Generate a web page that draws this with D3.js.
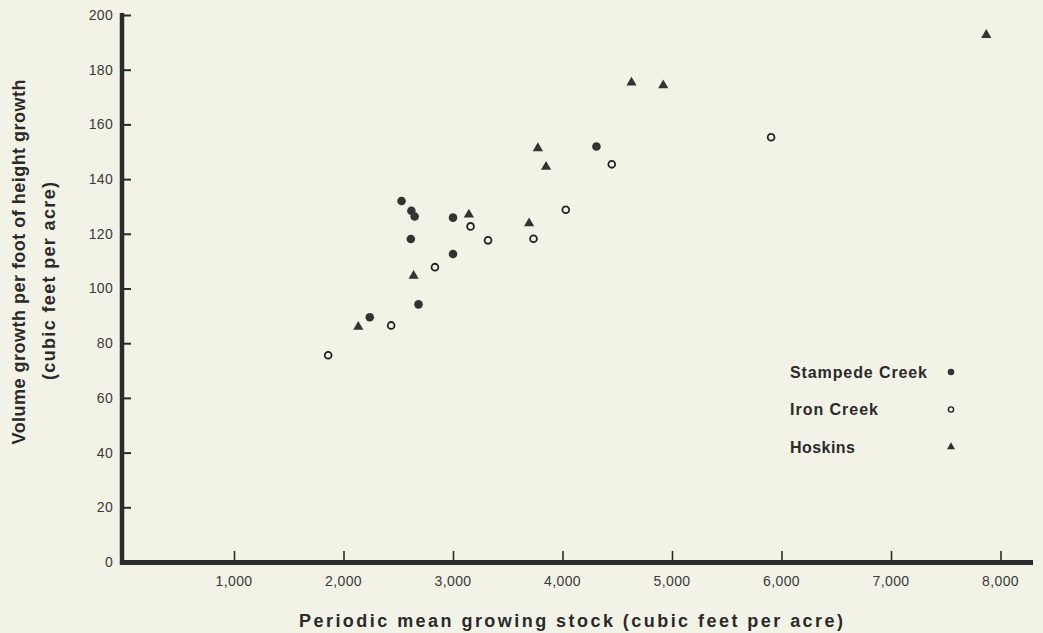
<!DOCTYPE html>
<html>
<head>
<meta charset="utf-8">
<script src="https://cdn.jsdelivr.net/npm/d3@7"></script>
<style>
  body { margin: 0; background: #f2f3e6; }
  svg { display: block; font-family: "Liberation Sans", Arial, sans-serif; }
</style>
</head>
<body>
<svg id="chart"></svg>
<script>
// values
var stampedeX = [2530, 2620, 2650, 3000, 2615, 3000, 2685, 2240, 4310];
var stampedeY = [132, 128.4, 126.3, 125.9, 118.1, 112.6, 94.2, 89.5, 151.9];
var ironX = [3160, 3320, 3735, 4030, 2835, 2435, 1860, 4450, 5905];
var ironY = [122.7, 117.6, 118.2, 128.8, 107.8, 86.5, 75.6, 145.4, 155.3];
var hoskinsX = [3775, 3850, 3145, 3695, 2640, 2135, 7870, 4630, 4920];
var hoskinsY = [151.3, 144.5, 127, 123.8, 104.6, 86, 192.7, 175.3, 174.3];

var xTicks = [1000, 2000, 3000, 4000, 5000, 6000, 7000, 8000];
var yTicks = [0, 20, 40, 60, 80, 100, 120, 140, 160, 180, 200];
var seriesNames = ["Stampede Creek", "Iron Creek", "Hoskins"];

var width = 1043, height = 633;
var ink = "#2a2a2a";

var svg = d3.select("#chart").attr("width", width).attr("height", height);

var x = d3.scaleLinear().domain([0, 8000]).range([124.5, 1000.5]);
var y = d3.scaleLinear().domain([0, 200]).range([562, 15]);

// y axis
var yAxis = svg.append("g")
    .attr("transform", "translate(122,0)")
    .call(d3.axisRight(y).tickValues(yTicks).tickSize(9).tickFormat(""));
yAxis.select(".domain").remove();
yAxis.selectAll("line").attr("stroke", ink).attr("stroke-width", 2);

svg.append("line")
    .attr("x1", 122).attr("x2", 122)
    .attr("y1", 13).attr("y2", 565)
    .attr("stroke", ink).attr("stroke-width", 4.5);

svg.append("g").selectAll("text")
    .data(yTicks).enter().append("text")
    .attr("x", 113)
    .attr("y", function(d) { return y(d); })
    .attr("dy", "0.35em")
    .attr("text-anchor", "end")
    .attr("fill", "#3a3a3a")
    .style("font-size", "14px")
    .style("letter-spacing", "0.3px")
    .text(function(d) { return d; });

// x axis
var xAxis = svg.append("g")
    .attr("transform", "translate(0,562)")
    .call(d3.axisTop(x).tickValues(xTicks).tickSize(11).tickFormat(""));
xAxis.select(".domain").remove();
xAxis.selectAll("line").attr("stroke", ink).attr("stroke-width", 1.6);

svg.append("line")
    .attr("x1", 120).attr("x2", 1033)
    .attr("y1", 562.5).attr("y2", 562.5)
    .attr("stroke", ink).attr("stroke-width", 5);

svg.append("g").selectAll("text")
    .data(xTicks).enter().append("text")
    .attr("x", function(d) { return x(d); })
    .attr("y", 586)
    .attr("text-anchor", "middle")
    .attr("fill", "#3a3a3a")
    .style("font-size", "14px")
    .style("letter-spacing", "0.4px")
    .text(function(d) { return d3.format(",")(d); });

// axis titles
svg.append("text")
    .attr("x", 571).attr("y", 627)
    .attr("text-anchor", "middle")
    .attr("fill", ink)
    .attr("textLength", 544)
    .attr("lengthAdjust", "spacing")
    .style("font-size", "18px").style("font-weight", "bold")
    .text("Periodic mean growing stock (cubic feet per acre)");

svg.append("text")
    .attr("transform", "translate(25,262) rotate(-90)")
    .attr("text-anchor", "middle")
    .attr("fill", ink)
    .attr("textLength", 365)
    .attr("lengthAdjust", "spacing")
    .style("font-size", "18px").style("font-weight", "bold")
    .text("Volume growth per foot of height growth");

svg.append("text")
    .attr("transform", "translate(55,281) rotate(-90)")
    .attr("text-anchor", "middle")
    .attr("fill", ink)
    .attr("textLength", 198)
    .attr("lengthAdjust", "spacing")
    .style("font-size", "18px").style("font-weight", "bold")
    .text("(cubic feet per acre)");

// points
var stampede = stampedeX.map(function(v, i) { return [v, stampedeY[i]]; });
var iron = ironX.map(function(v, i) { return [v, ironY[i]]; });
var hoskins = hoskinsX.map(function(v, i) { return [v, hoskinsY[i]]; });

svg.append("g").selectAll("circle")
    .data(stampede).enter().append("circle")
    .attr("cx", function(d) { return x(d[0]); })
    .attr("cy", function(d) { return y(d[1]); })
    .attr("r", 4.3)
    .attr("fill", "#333");

svg.append("g").selectAll("circle")
    .data(iron).enter().append("circle")
    .attr("cx", function(d) { return x(d[0]); })
    .attr("cy", function(d) { return y(d[1]); })
    .attr("r", 3.4)
    .attr("fill", "none")
    .attr("stroke", "#222")
    .attr("stroke-width", 1.8);

var tri = d3.symbol().type(d3.symbolTriangle).size(45);
svg.append("g").selectAll("path")
    .data(hoskins).enter().append("path")
    .attr("transform", function(d) { return "translate(" + x(d[0]) + "," + y(d[1]) + ")"; })
    .attr("d", tri)
    .attr("fill", "#333");

// legend
var legend = svg.append("g").selectAll("g")
    .data(seriesNames).enter().append("g")
    .attr("transform", function(d, i) { return "translate(0," + (372 + i * 37.5) + ")"; });

var legendWidths = [137, 88, 65];
legend.append("text")
    .attr("x", 790).attr("dy", "0.35em")
    .attr("fill", ink)
    .attr("textLength", function(d, i) { return legendWidths[i]; })
    .attr("lengthAdjust", "spacing")
    .style("font-size", "16px").style("font-weight", "bold")
    .text(function(d) { return d; });

legend.each(function(d, i) {
  var g = d3.select(this);
  if (i === 0) {
    g.append("circle").attr("cx", 951).attr("r", 3.3).attr("fill", "#333");
  } else if (i === 1) {
    g.append("circle").attr("cx", 951).attr("r", 2.6).attr("fill", "none")
      .attr("stroke", "#222").attr("stroke-width", 1.4);
  } else {
    g.append("path").attr("transform", "translate(951,0)")
      .attr("d", d3.symbol().type(d3.symbolTriangle).size(28)).attr("fill", "#333");
  }
});
</script>
</body>
</html>
